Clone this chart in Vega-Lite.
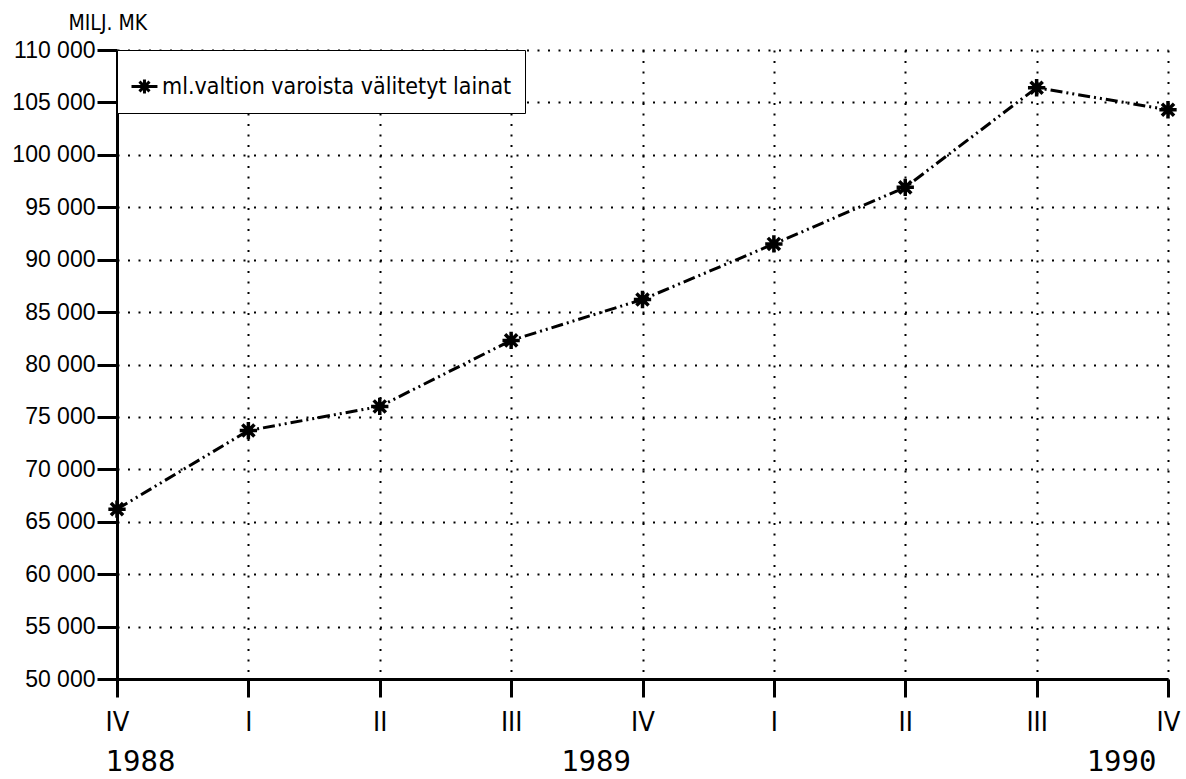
{
  "$schema": "https://vega.github.io/schema/vega-lite/v6.json",
  "width": 1051,
  "height": 629,
  "autosize": {"type": "none"},
  "padding": {"left": 117, "top": 50, "right": 18, "bottom": 100},
  "background": "white",
  "data": {
    "values": [
      {"t": 0, "quarter": "IV", "year": 1988, "value": 66200, "series": "ml.valtion varoista välitetyt lainat"},
      {"t": 1, "quarter": "I", "year": 1989, "value": 73700, "series": "ml.valtion varoista välitetyt lainat"},
      {"t": 2, "quarter": "II", "year": 1989, "value": 76000, "series": "ml.valtion varoista välitetyt lainat"},
      {"t": 3, "quarter": "III", "year": 1989, "value": 82300, "series": "ml.valtion varoista välitetyt lainat"},
      {"t": 4, "quarter": "IV", "year": 1989, "value": 86200, "series": "ml.valtion varoista välitetyt lainat"},
      {"t": 5, "quarter": "I", "year": 1990, "value": 91500, "series": "ml.valtion varoista välitetyt lainat"},
      {"t": 6, "quarter": "II", "year": 1990, "value": 96900, "series": "ml.valtion varoista välitetyt lainat"},
      {"t": 7, "quarter": "III", "year": 1990, "value": 106400, "series": "ml.valtion varoista välitetyt lainat"},
      {"t": 8, "quarter": "IV", "year": 1990, "value": 104300, "series": "ml.valtion varoista välitetyt lainat"}
    ]
  },
  "config": {"view": {"stroke": null}, "font": "Liberation Sans, sans-serif"},
  "encoding": {
    "y": {
      "field": "value",
      "type": "quantitative",
      "scale": {"domain": [50000, 110000], "nice": false, "zero": false},
      "axis": {
        "values": [50000, 55000, 60000, 65000, 70000, 75000, 80000, 85000, 90000, 95000, 100000, 105000, 110000],
        "labelExpr": "replace(format(datum.value, ','), ',', ' ')",
        "labelFont": "Liberation Sans, sans-serif",
        "labelFontSize": 23,
        "labelColor": "black",
        "labelPadding": 2,
        "tickSize": 20,
        "tickWidth": 3,
        "tickColor": "black",
        "domainColor": "black",
        "domainWidth": 3,
        "grid": true,
        "gridColor": "black",
        "gridWidth": 2,
        "gridDash": [2, 8.5],
        "gridOpacity": 1,
        "title": "MILJ. MK",
        "titleAngle": 0,
        "titleAlign": "left",
        "titleBaseline": "bottom",
        "titleX": -49,
        "titleY": -17,
        "titleFont": "DejaVu Sans Condensed, Liberation Sans, sans-serif",
        "titleFontSize": 21,
        "titleFontWeight": "normal",
        "titleColor": "black"
      }
    }
  },
  "layer": [
    {
      "mark": {"type": "line", "strokeWidth": 3, "strokeDash": [12, 4, 2, 4, 2, 4]},
      "encoding": {
        "x": {
          "field": "t",
          "type": "quantitative",
          "scale": {"domain": [0, 8], "nice": false, "zero": false},
          "axis": {
            "orient": "bottom",
            "values": [0, 1, 2, 3, 4, 5, 6, 7, 8],
            "labelExpr": "['IV','I','II','III','IV','I','II','III','IV'][datum.value]",
            "labelFont": "DejaVu Sans Condensed, Liberation Sans, sans-serif",
            "labelFontSize": 27,
            "labelColor": "black",
            "labelPadding": 12,
            "tickSize": 18,
            "tickWidth": 3,
            "tickColor": "black",
            "domainColor": "black",
            "domainWidth": 3,
            "grid": true,
            "gridColor": "black",
            "gridWidth": 2,
            "gridDash": [2, 8.5],
            "gridOpacity": 1,
            "title": null,
            "labelFlush": false,
            "labelOverlap": false
          }
        },
        "color": {
          "field": "series",
          "type": "nominal",
          "scale": {"range": ["black"]},
          "legend": {
            "title": null,
            "orient": "none",
            "legendX": 0,
            "legendY": 0,
            "fillColor": "white",
            "strokeColor": "black",
            "padding": 13,
            "labelFont": "DejaVu Sans Condensed, Liberation Sans, sans-serif",
            "labelFontSize": 23,
            "labelColor": "black",
            "labelLimit": 1000,
            "labelOffset": -15,
            "symbolSize": 1936,
            "symbolType": "M-1,0L0.18,0M-0.41,-0.32L-0.41,0.32M-0.64,-0.22L-0.18,0.22M-0.64,0.22L-0.18,-0.22",
            "symbolStrokeWidth": 3,
            "symbolStrokeColor": "black"
          }
        }
      }
    },
    {
      "mark": {
        "type": "point",
        "shape": "M-1,0L1,0M0,-1L0,1M-0.7,-0.7L0.7,0.7M-0.7,0.7L0.7,-0.7",
        "size": 300,
        "filled": false,
        "strokeWidth": 3.5,
        "color": "black",
        "opacity": 1
      },
      "encoding": {
        "x": {
          "field": "t",
          "type": "quantitative",
          "scale": {"domain": [0, 8], "nice": false, "zero": false},
          "axis": {
            "orient": "bottom",
            "values": [0, 4, 8],
            "labelExpr": "datum.value == 0 ? '1988' : datum.value == 4 ? '1989' : '1990'",
            "labelFont": "DejaVu Sans Mono, monospace",
            "labelFontSize": 29,
            "labelColor": "black",
            "labelAlign": {"expr": "datum.value == 0 ? 'left' : 'right'"},
            "labelOffset": -12,
            "labelPadding": 68,
            "labelBaseline": "top",
            "ticks": false,
            "domain": false,
            "grid": false,
            "title": null,
            "labelFlush": false,
            "labelOverlap": false
          }
        }
      }
    }
  ],
  "resolve": {"axis": {"x": "independent"}}
}
